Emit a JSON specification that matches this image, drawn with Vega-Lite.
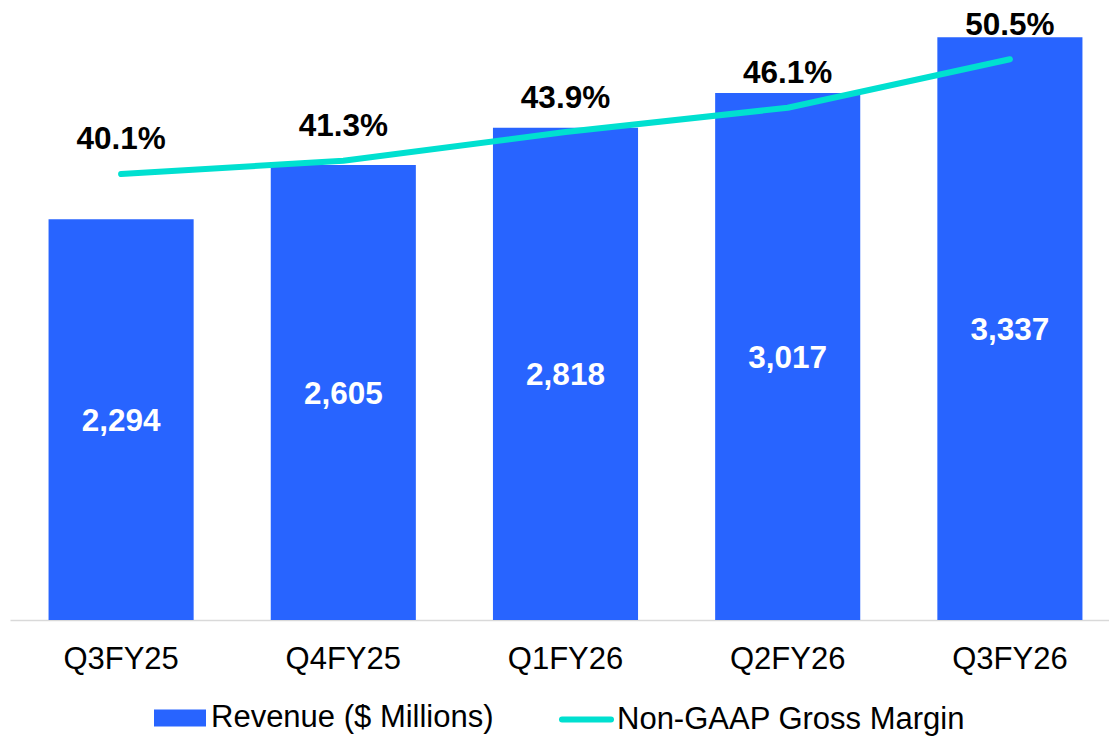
{
  "$schema": "https://vega.github.io/schema/vega-lite/v6.json",
  "autosize": {"type": "none"},
  "padding": {"left": 10, "top": 0, "right": 0, "bottom": 117},
  "width": 1099,
  "height": 620,
  "background": "white",
  "config": {
    "view": {"stroke": null},
    "font": "Liberation Sans",
    "text": {"font": "Liberation Sans"}
  },
  "data": {
    "values": [
      {"quarter": "Q3FY25", "revenue": 2294, "gm": 0.401},
      {"quarter": "Q4FY25", "revenue": 2605, "gm": 0.413},
      {"quarter": "Q1FY26", "revenue": 2818, "gm": 0.439},
      {"quarter": "Q2FY26", "revenue": 3017, "gm": 0.461},
      {"quarter": "Q3FY26", "revenue": 3337, "gm": 0.505}
    ]
  },
  "encoding": {
    "x": {
      "field": "quarter",
      "type": "nominal",
      "sort": null,
      "scale": {"range": [0, 1111], "paddingInner": 0.347, "paddingOuter": 0.1735},
      "axis": {
        "title": null,
        "labelAngle": 0,
        "labelFont": "Liberation Sans",
        "labelFontSize": 31,
        "labelColor": "#000000",
        "labelBaseline": "alphabetic",
        "labelPadding": 48,
        "ticks": false,
        "tickSize": 0,
        "domainColor": "#D9D9D9",
        "domainWidth": 1.5,
        "grid": false
      }
    }
  },
  "layer": [
    {
      "mark": {"type": "bar"},
      "encoding": {
        "y": {"field": "revenue", "type": "quantitative", "scale": {"domain": [0, 3550], "nice": false, "zero": false}, "axis": null},
        "fill": {
          "datum": "Revenue ($ Millions)",
          "type": "nominal",
          "scale": {"range": ["#2864FF"]},
          "legend": {
            "orient": "none",
            "legendX": 144,
            "legendY": 692,
            "title": null,
            "padding": 0,
            "labelFont": "Liberation Sans",
            "labelFontSize": 31,
            "labelColor": "#000000",
            "labelLimit": 600,
            "labelOffset": 5,
            "symbolType": "M-1,-0.327H1V0.327H-1Z",
            "symbolSize": 2704,
            "symbolStrokeWidth": 0
          }
        }
      }
    },
    {
      "mark": {"type": "text", "color": "#FFFFFF", "fontWeight": "bold", "fontSize": 31.5, "baseline": "middle", "align": "center", "dy": 2, "font": "Liberation Sans"},
      "encoding": {
        "y": {"field": "revenue", "type": "quantitative", "scale": {"domain": [0, 7100], "nice": false, "zero": false}, "axis": null},
        "text": {"field": "revenue", "type": "quantitative", "format": ",d"}
      }
    },
    {
      "mark": {"type": "line", "strokeWidth": 6, "strokeCap": "round", "strokeJoin": "round"},
      "encoding": {
        "y": {"field": "gm", "type": "quantitative", "scale": {"domain": [-0.0033, 0.5587], "nice": false, "zero": false}, "axis": null},
        "stroke": {
          "datum": "Non-GAAP Gross Margin",
          "type": "nominal",
          "scale": {"range": ["#00E0D0"]},
          "legend": {
            "orient": "none",
            "legendX": 549,
            "legendY": 692,
            "title": null,
            "padding": 0,
            "labelFont": "Liberation Sans",
            "labelFontSize": 31,
            "labelColor": "#000000",
            "labelLimit": 600,
            "labelOffset": 3,
            "symbolType": "stroke",
            "symbolSize": 2401,
            "symbolStrokeWidth": 6,
            "encode": {"symbols": {"update": {"strokeCap": {"value": "round"}}}}
          }
        }
      }
    },
    {
      "mark": {"type": "text", "color": "#000000", "fontWeight": "bold", "fontSize": 31.5, "baseline": "alphabetic", "align": "center", "dy": -24.5, "font": "Liberation Sans"},
      "encoding": {
        "y": {"field": "gm", "type": "quantitative", "scale": {"domain": [-0.0033, 0.5587], "nice": false, "zero": false}, "axis": null},
        "text": {"field": "gm", "type": "quantitative", "format": ".1%"}
      }
    }
  ],
  "resolve": {"scale": {"y": "independent"}}
}
